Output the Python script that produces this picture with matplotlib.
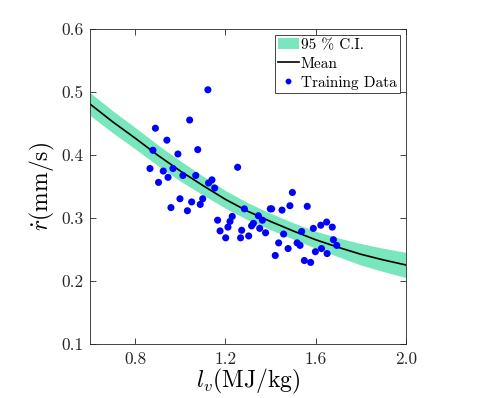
import numpy as np
import matplotlib
matplotlib.use('Agg')
import matplotlib.pyplot as plt
from matplotlib.patches import Patch
from matplotlib.lines import Line2D

# training data
lv_data = [0.865, 0.878, 0.889, 0.903, 0.924, 0.940, 0.945, 0.958, 0.967, 0.989,
           0.998, 1.011, 1.031, 1.041, 1.050, 1.068, 1.077, 1.088, 1.099, 1.122,
           1.125, 1.140, 1.152, 1.165, 1.176, 1.201, 1.211, 1.220, 1.230, 1.254,
           1.267, 1.272, 1.284, 1.303, 1.316, 1.324, 1.346, 1.352, 1.364, 1.378,
           1.399, 1.405, 1.421, 1.436, 1.451, 1.458, 1.478, 1.486, 1.497, 1.518,
           1.531, 1.538, 1.550, 1.563, 1.578, 1.590, 1.599, 1.623, 1.626, 1.649,
           1.651, 1.674, 1.679, 1.694]
r_data = [0.379, 0.408, 0.443, 0.357, 0.375, 0.424, 0.365, 0.317, 0.379, 0.402,
          0.331, 0.368, 0.312, 0.456, 0.326, 0.368, 0.409, 0.322, 0.331, 0.504,
          0.356, 0.361, 0.348, 0.297, 0.280, 0.269, 0.286, 0.295, 0.303, 0.381,
          0.269, 0.281, 0.315, 0.272, 0.288, 0.292, 0.304, 0.284, 0.297, 0.277,
          0.315, 0.315, 0.241, 0.261, 0.313, 0.275, 0.252, 0.320, 0.341, 0.261,
          0.257, 0.279, 0.233, 0.319, 0.230, 0.284, 0.247, 0.289, 0.252, 0.294,
          0.244, 0.286, 0.266, 0.257]

# GP mean and 95% band half width
lv_grid = [0.6, 0.7, 0.8, 0.9, 1.0, 1.1, 1.2, 1.3, 1.4, 1.5, 1.6, 1.7, 1.8, 1.9, 2.0]
r_mean = [0.481, 0.453, 0.427, 0.400, 0.375, 0.352, 0.330, 0.311, 0.295, 0.280,
          0.266, 0.254, 0.243, 0.234, 0.226]
r_half = [0.018, 0.0175, 0.017, 0.0165, 0.016, 0.015, 0.014, 0.0135, 0.013, 0.013,
          0.0135, 0.015, 0.017, 0.0185, 0.020]

plt.rcParams['font.family'] = 'serif'
plt.rcParams['font.serif'] = ['cmr10', 'DejaVu Serif']
plt.rcParams['mathtext.fontset'] = 'cm'
plt.rcParams['axes.formatter.use_mathtext'] = True

band_color = '#7ae6bd'
axis_color = '#262626'

fig = plt.figure(figsize=(4.79, 3.98), dpi=100)
ax = fig.add_axes([0.1885, 0.1349, 0.6585, 0.7915])

lower = np.array(r_mean) - np.array(r_half)
upper = np.array(r_mean) + np.array(r_half)
ax.fill_between(lv_grid, lower, upper, color=band_color, linewidth=0)
ax.plot(lv_grid, r_mean, color='black', lw=1.2)
ax.scatter(lv_data, r_data, s=26, color='#0000ff', edgecolors='none', zorder=3)

ax.set_xlim(0.6, 2.0)
ax.set_ylim(0.1, 0.6)
ax.set_xticks([0.8, 1.2, 1.6, 2.0])
ax.set_xticklabels(['0.8', '1.2', '1.6', '2.0'])
ax.set_yticks([0.1, 0.2, 0.3, 0.4, 0.5, 0.6])
ax.set_yticklabels(['0.1', '0.2', '0.3', '0.4', '0.5', '0.6'])
ax.tick_params(direction='in', length=4, width=0.6, colors=axis_color,
               labelsize=12.5, top=True, right=True, pad=5)
for sp in ax.spines.values():
    sp.set_color(axis_color)
    sp.set_linewidth(0.6)

ax.set_xlabel(r'$l_v$(MJ/kg)', fontsize=17, labelpad=0)
ax.set_ylabel(r'$\dot{r}$(mm/s)', fontsize=17, labelpad=3)

handles = [Patch(facecolor=band_color, edgecolor='none'),
           Line2D([], [], color='black', lw=1.2),
           Line2D([], [], color='#0000ff', marker='o', ls='none', markersize=3.2)]
leg = ax.legend(handles, ['95 % C.I.', 'Mean', 'Training Data'], loc='upper right',
                fontsize=11, fancybox=False, framealpha=1, edgecolor=axis_color,
                borderpad=0.2, labelspacing=0.32, handlelength=1.4, handletextpad=0.1,
                borderaxespad=0.4)
leg.get_frame().set_linewidth(0.6)

fig.savefig('out.png', dpi=100)
